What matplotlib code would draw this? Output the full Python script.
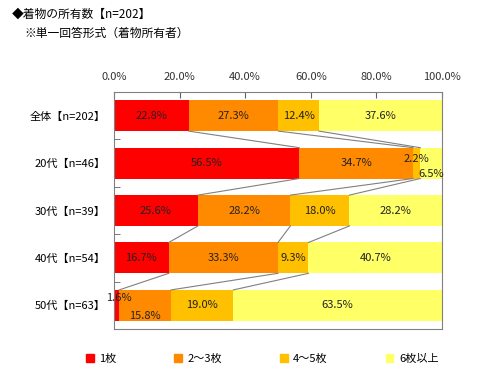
import numpy as np
import matplotlib.pyplot as plt
from matplotlib.patches import Patch

plt.rcParams['font.family'] = ['Noto Sans CJK JP', 'DejaVu Sans']

categories = ['全体【n=202】', '20代【n=46】', '30代【n=39】', '40代【n=54】', '50代【n=63】']
series_names = ['1枚', '2～3枚', '4～5枚', '6枚以上']
values = np.array([
    [22.8, 27.3, 12.4, 37.6],
    [56.5, 34.7, 2.2, 6.5],
    [25.6, 28.2, 18.0, 28.2],
    [16.7, 33.3, 9.3, 40.7],
    [1.6, 15.8, 19.0, 63.5],
])
colors = ['#ff0000', '#ff8a00', '#ffc000', '#ffff66']

# label nudges for the tiny segments (row, series): (dx, dy)
nudges = {(1, 2): (0, -0.09), (1, 3): (0, 0.23), (4, 0): (0.8, -0.15), (4, 1): (0, 0.23)}

fig = plt.figure(figsize=(4.93, 3.90), dpi=100)
ax = fig.add_axes([0.2312, 0.1564, 0.6653, 0.6077])

h = 0.65
y = np.arange(len(categories))
left = np.zeros(len(categories))
for j in range(values.shape[1]):
    ax.barh(y, values[:, j], left=left, height=h, color=colors[j], edgecolor='none')
    for i in range(len(categories)):
        dx, dy = nudges.get((i, j), (0, 0))
        ax.text(left[i] + values[i, j] / 2 + dx, y[i] + dy, f'{values[i, j]:.1f}%',
                ha='center', va='center', fontsize=8, color='#222222')
    left += values[:, j]

# series lines between neighbouring bars
cum = np.cumsum(values, axis=1)
for i in range(len(categories) - 1):
    for j in range(3):
        ax.plot([cum[i, j], cum[i + 1, j]], [y[i] + h / 2, y[i + 1] - h / 2],
                color='#808080', lw=0.8)

ax.set_xlim(0, 100)
ax.set_ylim(len(categories) - 0.5, -0.5)
ax.xaxis.tick_top()
ax.set_xticks(np.arange(0, 101, 20))
ax.set_xticklabels([f'{v:.1f}%' for v in range(0, 101, 20)])
ax.tick_params(axis='x', direction='in', length=4, color='#606060', labelsize=8,
               labelcolor='#333333', pad=7)
ax.set_yticks(y)
ax.set_yticklabels(categories)
ax.tick_params(axis='y', length=0, labelsize=8, pad=6)
ax.set_yticks(np.arange(0.5, len(categories) - 0.5, 1), minor=True)
ax.tick_params(axis='y', which='minor', direction='in', length=4, color='#606060')
for s in ax.spines.values():
    s.set_color('#808080')
    s.set_linewidth(0.8)

fig.text(0.024, 0.964, '◆着物の所有数【n=202】', fontsize=8.5, va='center')
fig.text(0.05, 0.915, '※単一回答形式（着物所有者）', fontsize=8.5, va='center')

handles = [Patch(color=c) for c in colors]
fig.legend(handles, series_names, loc='center left', bbox_to_anchor=(0.165, 0.08),
           ncol=4, frameon=False, fontsize=8, handlelength=0.7, handleheight=0.7,
           handletextpad=0.5, columnspacing=5.2, borderaxespad=0)

fig.savefig('out.png', dpi=100)
